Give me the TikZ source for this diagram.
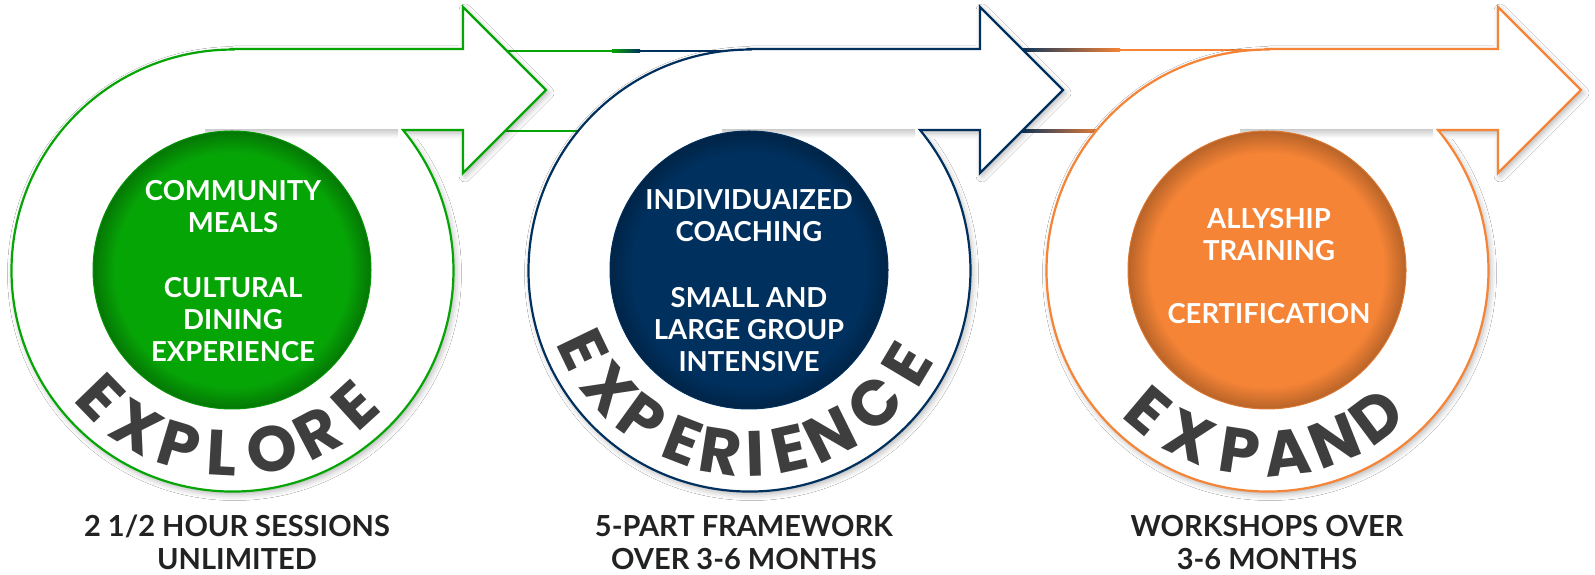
\documentclass[tikz,border=0pt]{standalone}
\usepackage{fontspec}
\setmainfont{Lato}
\newfontfamily\stampfont{Poppins}
\usepackage{tikz}
\usetikzlibrary{shadows.blur}
\definecolor{grn}{HTML}{06A506}
\definecolor{nvy}{HTML}{00305E}
\definecolor{org}{HTML}{F58436}
\definecolor{ink}{HTML}{3E3E3E}
\definecolor{capc}{HTML}{222222}
\pgfdeclareradialshading{rimgrn}{\pgfpoint{0bp}{0bp}}{color(0bp)=(grn); color(21bp)=(grn); color(25bp)=(grn!72!black); color(50bp)=(grn!72!black)}
\pgfdeclareradialshading{rimnvy}{\pgfpoint{0bp}{0bp}}{color(0bp)=(nvy); color(21bp)=(nvy); color(25bp)=(nvy!75!black); color(50bp)=(nvy!75!black)}
\pgfdeclareradialshading{rimorg}{\pgfpoint{0bp}{0bp}}{color(0bp)=(org); color(21bp)=(org); color(25bp)=(org!75!black); color(50bp)=(org!75!black)}
\tikzset{
  ring/.style={draw=#1, line width=2.2pt, fill=white, line join=miter,
    blur shadow={shadow xshift=2pt, shadow yshift=-3pt, shadow blur radius=6pt, shadow opacity=30}},
  hub/.style={draw=#1, line width=1pt},
  hubtxt/.style={text=white, font=\fontsize{27.5}{32}\selectfont\bfseries, align=center, anchor=south, inner sep=0pt},
  captxt/.style={text=capc, font=\fontsize{29}{33}\selectfont\bfseries, align=center, anchor=south, inner sep=0pt},
  stamp/.style={text=ink, font=\stampfont\bfseries\fontsize{64}{64}\selectfont, inner sep=0pt},
  bandline/.style={fill=#1},
}

\begin{document}
\begin{tikzpicture}[x=1pt,y=1pt]
  \useasboundingbox (0,0) rectangle (1595,575);
  \fill[white] (0,0) rectangle (1595,575);
  % bands between the units
  \fill[white] (470,444) rectangle (745,524);
  \fill[bandline=grn] (470,522.8) rectangle (612,525.2);
  \shade[left color=grn, right color=nvy] (612,522.8) rectangle (640,525.2);
  \fill[bandline=nvy] (640,522.8) rectangle (745,525.2);
  \fill[bandline=grn] (470,442.8) rectangle (600,445.2);
  \fill[white] (985,444) rectangle (1265,524);
  \fill[bandline=nvy] (985,523.8) rectangle (1015,526.2);
  \shade[left color=nvy, right color=org] (1015,523.8) rectangle (1120,526.2);
  \fill[bandline=org] (1120,523.8) rectangle (1265,526.2);
  \fill[bandline=nvy] (985,442.8) rectangle (1015,445.2);
  \shade[left color=nvy, right color=org] (1015,442.8) rectangle (1105,445.2);
  % circle + arrow units
  \foreach \cx/\col in {232/grn,749/nvy,1267/org}{
    \draw[ring=\col] (\cx,526) -- (\cx+231,526) -- (\cx+231,568) -- (\cx+314,485)
      -- (\cx+231,402) -- (\cx+231,445) -- (\cx+171,445)
      arc[start angle=39.5, end angle=-270, radius=221] -- cycle;
    \shade[top color=black!18, bottom color=white] (\cx-27,437) rectangle (\cx+166,445);
  }
  \coordinate (u1) at (232,305);
  \coordinate (u2) at (749,305);
  \coordinate (u3) at (1267,305);
  \path[shading=rimgrn] (u1) circle (139);
  \draw[hub=grn!90!black] (u1) circle (139);
  \path[shading=rimnvy] (u2) circle (139);
  \draw[hub=nvy] (u2) circle (139);
  \path[shading=rimorg] (u3) circle (139);
  \draw[hub=org!90!black] (u3) circle (139);
  % texts in the hubs
  \node[hubtxt] (hub1) at (233,213.5) {COMMUNITY\\MEALS\\[33pt]CULTURAL\\DINING\\EXPERIENCE};
  \node[hubtxt] (hub2) at (749,203.5) {INDIVIDUAIZED\\COACHING\\[34pt]SMALL AND\\LARGE GROUP\\INTENSIVE};
  \node[hubtxt] (hub3) at (1269,251.5) {ALLYSHIP\\TRAINING\\[31pt]CERTIFICATION};
  % curved words
  \foreach \a/\ch [count=\i] in {224.1/E,238.8/X,253.2/P,266.9/L,282.7/O,297.7/R,312.3/E}
    \path (u1) ++(\a:183.5) node[stamp, rotate=\a+90] (wa\i) {\ch};
  \foreach \a/\ch [count=\i] in {205.7/E,220.7/X,234.1/P,248.9/E,261.1/R,271.8/I,282.6/E,296.3/N,313.3/C,329.2/E}
    \path (u2) ++(\a:183.5) node[stamp, rotate=\a+90] (wb\i) {\ch};
  \foreach \a/\ch [count=\i] in {229.8/E,245.2/X,261.3/P,276.3/A,291.6/N,306.8/D}
    \path (u3) ++(\a:183.5) node[stamp, rotate=\a+90] (wc\i) {\ch};
  % captions
  \node[captxt] (cap1) at (237,5) {2 1/2 HOUR SESSIONS\\UNLIMITED};
  \node[captxt] (cap2) at (744,5) {5-PART FRAMEWORK\\OVER 3-6 MONTHS};
  \node[captxt] (cap3) at (1267,5) {WORKSHOPS OVER\\3-6 MONTHS};
\end{tikzpicture}
\end{document}
